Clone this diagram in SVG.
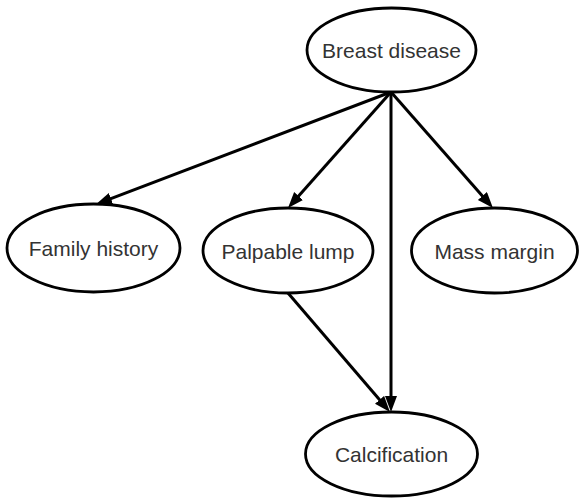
<svg xmlns="http://www.w3.org/2000/svg" width="579" height="498" viewBox="0 0 579 498">
<style>
.node ellipse{fill:#fff;stroke:#000;stroke-width:2.8}
.node text{font-family:"Liberation Sans",Arial,sans-serif;font-size:21px;fill:#333;text-anchor:middle}
.edges line{stroke:#000;stroke-width:3;fill:none}
</style>
<defs>
<marker id="ah" markerUnits="userSpaceOnUse" markerWidth="17" markerHeight="13" refX="5" refY="6" orient="auto" viewBox="0 0 17 13">
<path d="M0,0 L16,6 L0,12 z" fill="#000"/>
</marker>
</defs>
<rect width="579" height="498" fill="#fff"/>
<g class="edges">
<line x1="391" y1="92" x2="106.3" y2="200.4" marker-end="url(#ah)"/>
<line x1="391" y1="92" x2="295.3" y2="199.8" marker-end="url(#ah)"/>
<line x1="391" y1="92" x2="485.7" y2="199.7" marker-end="url(#ah)"/>
<line x1="391" y1="92" x2="391" y2="401" marker-end="url(#ah)"/>
<line x1="288" y1="293" x2="382.8" y2="403.6" marker-end="url(#ah)"/>
</g>
<g id="breast-disease" class="node"><ellipse cx="391.5" cy="50" rx="84.5" ry="42"/><text x="391.5" y="58">Breast disease</text></g>
<g id="family-history" class="node"><ellipse cx="93.5" cy="248" rx="86.5" ry="44"/><text x="93.5" y="256">Family history</text></g>
<g id="palpable-lump" class="node"><ellipse cx="288" cy="250.5" rx="85" ry="42.5"/><text x="288" y="258.5">Palpable lump</text></g>
<g id="mass-margin" class="node"><ellipse cx="494.5" cy="250.5" rx="83" ry="42.5"/><text x="494.5" y="258.5">Mass margin</text></g>
<g id="calcification" class="node"><ellipse cx="391.5" cy="454" rx="86" ry="42"/><text x="391.5" y="462">Calcification</text></g>
</svg>
